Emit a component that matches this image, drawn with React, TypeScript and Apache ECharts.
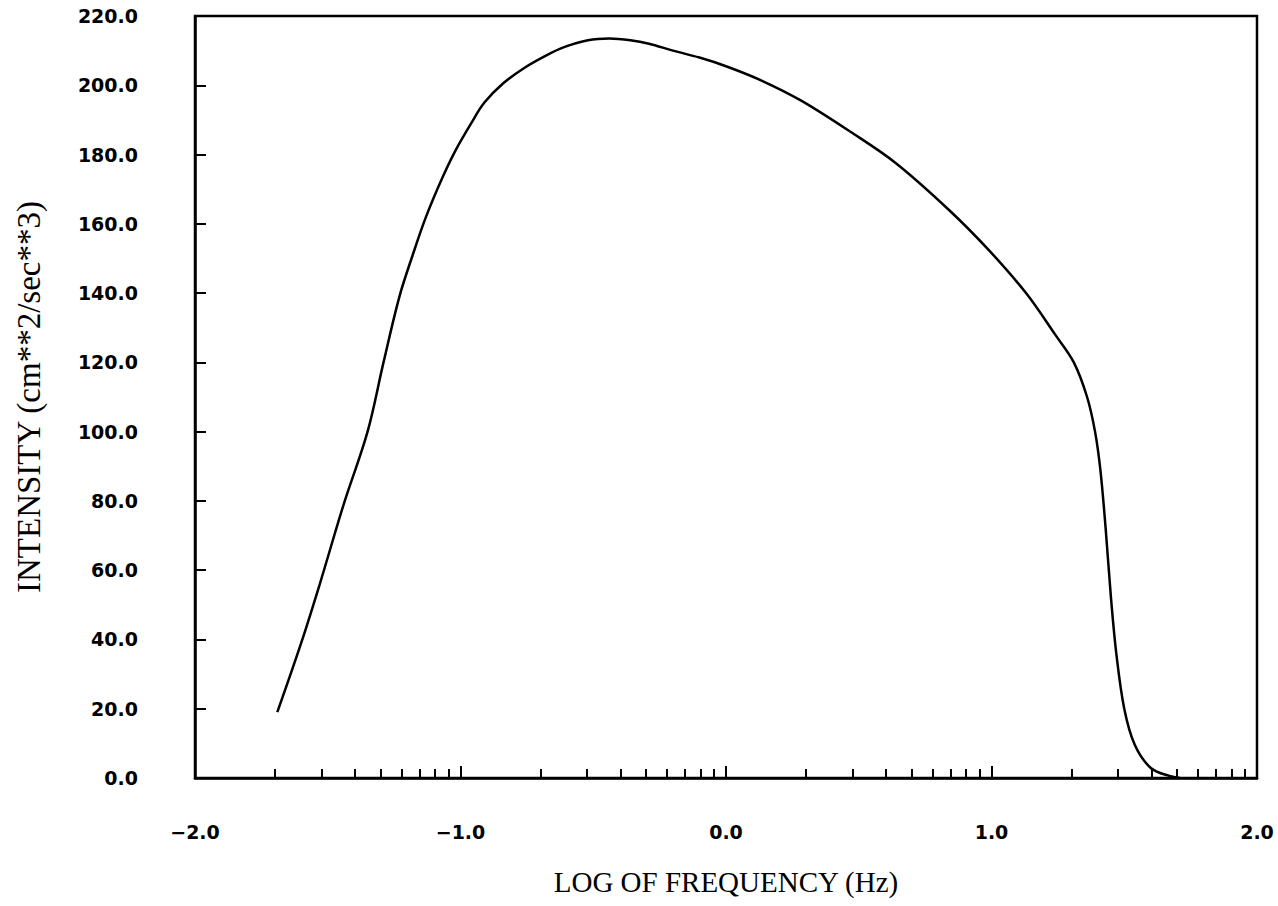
import React, { useEffect, useRef } from "react";
import * as echarts from "echarts";

const logFreq: number[] = [
  -1.69, -1.6, -1.53, -1.44, -1.35, -1.29, -1.23, -1.18, -1.13, -1.07, -1.02, -0.96, -0.91, -0.84,
  -0.76, -0.68, -0.61, -0.52, -0.44, -0.36, -0.29, -0.2, -0.1, 0.0, 0.13, 0.28, 0.47, 0.64, 0.84,
  0.99, 1.13, 1.24, 1.31, 1.36, 1.39, 1.41, 1.43, 1.45, 1.47, 1.5, 1.54, 1.6, 1.67, 1.71,
];
const intensity: number[] = [
  19, 39, 56, 79, 100, 120, 139, 151, 162, 173, 181, 189, 195, 200.5, 205, 208.5, 211, 213,
  213.5, 213, 212, 210, 208, 205.5, 201.5, 195.7, 186.5, 177.5, 164, 152.4, 140, 128, 120, 110,
  100, 89, 72, 52, 36, 20, 9.5, 2.9, 0.6, 0,
];

const xMajorTicks: number[] = [-2, -1, 0, 1, 2];
const yTickStep = 20;
const decades: number[] = [-2, -1, 0, 1];
const minorMultipliers: number[] = [2, 3, 4, 5, 6, 7, 8, 9];

export default function App() {
  const ref = useRef<HTMLDivElement>(null);
  useEffect(() => {
    if (!ref.current) return;
    const chart = echarts.init(ref.current, undefined, { renderer: "svg" });
    const minorTicks: number[] = [];
    decades.forEach((d) => minorMultipliers.forEach((m) => minorTicks.push(d + Math.log10(m))));
    const data = logFreq.map((x, i) => [x, intensity[i]]);
    const labelStyle = {
      color: "#000",
      fontFamily: "DejaVu Sans",
      fontWeight: "bold" as const,
      fontSize: 19,
    };
    chart.setOption({
      animation: false,
      backgroundColor: "#fff",
      grid: {
        left: 195,
        right: 21,
        top: 16,
        bottom: 128,
        show: true,
        borderColor: "#000",
        borderWidth: 2.5,
        containLabel: false,
      },
      xAxis: [
        {
          type: "value",
          min: -2,
          max: 2,
          interval: 1,
          position: "bottom",
          name: "LOG OF FREQUENCY (Hz)",
          nameLocation: "middle",
          nameGap: 89,
          nameTextStyle: { color: "#000", fontFamily: "Liberation Serif", fontSize: 29 },
          axisLine: { show: true, onZero: false, lineStyle: { color: "#000", width: 2.5 } },
          axisTick: { show: true, inside: true, length: 12, customValues: xMajorTicks, lineStyle: { color: "#000", width: 2 } },
          axisLabel: {
            ...labelStyle,
            margin: 44,
            formatter: (v: number) => v.toFixed(1).replace("-", "\u2212"),
          },
          splitLine: { show: false },
        },
        {
          type: "value",
          min: -2,
          max: 2,
          position: "bottom",
          axisLine: { show: false },
          axisTick: { show: true, inside: true, length: 9, customValues: minorTicks, lineStyle: { color: "#000", width: 2 } },
          axisLabel: { show: false },
          splitLine: { show: false },
        },
      ],
      yAxis: {
        type: "value",
        min: 0,
        max: 220,
        interval: yTickStep,
        name: "INTENSITY (cm**2/sec**3)",
        nameLocation: "middle",
        nameGap: 150,
        nameRotate: 90,
        nameTextStyle: { color: "#000", fontFamily: "Liberation Serif", fontSize: 33 },
        axisLine: { show: true, onZero: false, lineStyle: { color: "#000", width: 2.5 } },
        axisTick: { show: true, inside: true, length: 11, lineStyle: { color: "#000", width: 2 } },
        axisLabel: { ...labelStyle, margin: 57, formatter: (v: number) => v.toFixed(1) },
        splitLine: { show: false },
      },
      series: [
        {
          type: "line",
          data,
          xAxisIndex: 0,
          smooth: 0.35,
          showSymbol: false,
          lineStyle: { color: "#000", width: 2.5 },
        },
      ],
    });
    return () => chart.dispose();
  }, []);
  return (
    <div
      ref={ref}
      style={{ position: "absolute", left: 0, top: 0, width: 1278, height: 906, background: "#fff" }}
    />
  );
}
